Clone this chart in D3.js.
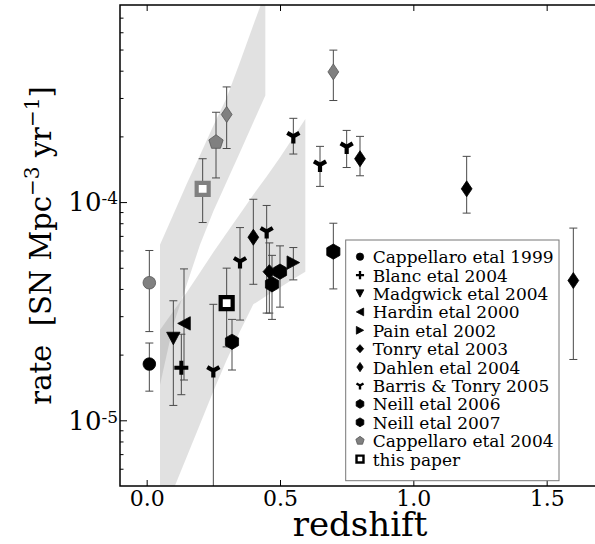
<!DOCTYPE html>
<html lang="en">
<head>
<meta charset="utf-8">
<title>SN rate vs redshift</title>
<script src="https://cdn.jsdelivr.net/npm/d3@7"></script>
<style>
  body { margin: 0; background: #fff; }
  svg { display: block; }
  text { font-family: "DejaVu Serif", serif; fill: #000; }
</style>
</head>
<body>
<script>

let width = 595
let height = 544
let plotLeft = 120, plotTop = 5, plotRight = 600, plotBottom = 486

// tick values
const xTicks = [0.0, 0.5, 1.0, 1.5]
const xTickLabels = ['0.0', '0.5', '1.0', '1.5']
const yMajorTicks = [1e-5, 1e-4]
const yMajorExp = ['-5', '-4']

// points: [redshift, rate, lower, upper]
const cappellaro1999 = [[0.01, 1.81e-5, 1.36e-5, 2.26e-5]]
const blanc2004 = [[0.13, 1.74e-5, 1.31e-5, 2.48e-5]]
const madgwick2004 = [[0.10, 2.37e-5, 1.17e-5, 3.53e-5]]
const hardin2000 = [[0.14, 2.78e-5, 1.53e-5, 4.94e-5]]
const pain2002 = [[0.55, 5.28e-5, 4.4e-5, 6.19e-5]]
const tonry2003 = [[0.46, 4.8e-5, 3.1e-5, 6.5e-5]]
const dahlen2004 = [[0.40, 6.9e-5, 4.2e-5, 1.03e-4], [0.80, 1.58e-4, 1.32e-4, 2.0e-4],
                    [1.20, 1.15e-4, 8.9e-5, 1.62e-4], [1.60, 4.37e-5, 1.9e-5, 7.6e-5]]
const barrisTonry2005 = [[0.25, 1.69e-5, 1e-6, 3.4e-5], [0.35, 5.34e-5, 2.88e-5, 7.64e-5],
                         [0.45, 7.33e-5, 3.1e-5, 9.65e-5], [0.55, 2.0e-4, 1.66e-4, 2.42e-4],
                         [0.65, 1.48e-4, 1.18e-4, 1.80e-4], [0.75, 1.79e-4, 1.44e-4, 2.13e-4]]
const neill2006 = [[0.47, 4.2e-5, 2.9e-5, 5.7e-5]]
const neill2007 = [[0.32, 2.29e-5, 1.7e-5, 2.9e-5], [0.50, 4.8e-5, 3.3e-5, 6.3e-5],
                   [0.70, 5.93e-5, 4.0e-5, 8.0e-5]]
const cappellaro2004 = [[0.26, 1.88e-4, 1.29e-4, 2.58e-4]]
const thisPaper = [[0.30, 3.44e-5, 2.17e-5, 4.98e-5]]

// core collapse points (grey, not in legend)
const ccCappellaro1999 = [[0.01, 4.27e-5, 2.55e-5, 6.0e-5]]
const ccDahlen2004 = [[0.30, 2.52e-4, 1.76e-4, 3.37e-4], [0.70, 3.95e-4, 2.92e-4, 4.97e-4]]
const ccThisPaper = [[0.21, 1.15e-4, 8.06e-5, 1.58e-4]]

// model bands
const ccBandZ = [0.05, 0.10, 0.15, 0.20, 0.25, 0.30, 0.35, 0.40, 0.445]
const ccBandLow = [1.45e-5, 2.74e-5, 4.18e-5, 6.37e-5, 9.08e-5, 1.24e-4, 1.69e-4, 2.32e-4, 3.08e-4]
const ccBandHigh = [6.37e-5, 8.78e-5, 1.21e-4, 1.64e-4, 2.24e-4, 3.01e-4, 4.39e-4, 6.47e-4, 9.14e-4]
const iaBandZ = [0.05, 0.10, 0.15, 0.20, 0.25, 0.30, 0.35, 0.40, 0.45, 0.50, 0.55, 0.595]
const iaBandLow = [3.4e-6, 4.81e-6, 6.79e-6, 9.59e-6, 1.36e-5, 1.89e-5, 2.56e-5, 3.4e-5, 3.72e-5, 4.06e-5, 4.44e-5, 4.79e-5]
const iaBandHigh = [2.59e-5, 3.16e-5, 3.85e-5, 4.76e-5, 5.89e-5, 7.21e-5, 8.81e-5, 1.08e-4, 1.31e-4, 1.60e-4, 1.98e-4, 2.40e-4]

const grey = '#808080'

let series = [
  {label: 'Cappellaro etal 1999', data: cappellaro1999, shape: 'circle', color: '#000'},
  {label: 'Blanc etal 2004', data: blanc2004, shape: 'plus', color: '#000'},
  {label: 'Madgwick etal 2004', data: madgwick2004, shape: 'triDown', color: '#000'},
  {label: 'Hardin etal 2000', data: hardin2000, shape: 'triLeft', color: '#000'},
  {label: 'Pain etal 2002', data: pain2002, shape: 'triRight', color: '#000'},
  {label: 'Tonry etal 2003', data: tonry2003, shape: 'diamond', color: '#000'},
  {label: 'Dahlen etal 2004', data: dahlen2004, shape: 'thinDiamond', color: '#000'},
  {label: 'Barris & Tonry 2005', data: barrisTonry2005, shape: 'wye', color: '#000'},
  {label: 'Neill etal 2006', data: neill2006, shape: 'hexagon', color: '#000'},
  {label: 'Neill etal 2007', data: neill2007, shape: 'hexagon', color: '#000'},
  {label: 'Cappellaro etal 2004', data: cappellaro2004, shape: 'pentagon', color: grey},
  {label: 'this paper', data: thisPaper, shape: 'square', color: '#000'},
  {label: null, data: ccCappellaro1999, shape: 'circle', color: grey},
  {label: null, data: ccDahlen2004, shape: 'thinDiamond', color: grey},
  {label: null, data: ccThisPaper, shape: 'square', color: grey}
]

let xScale = d3.scaleLinear().domain([-0.1, 1.7]).range([plotLeft, plotRight])
let yScale = d3.scaleLog().domain([5e-6, 8e-4]).range([plotBottom, plotTop])

let svg = d3.select('body').append('svg')
            .attr('width', width)
            .attr('height', height)

svg.append('defs').append('clipPath').attr('id', 'plotclip')
   .append('rect')
   .attr('x', plotLeft).attr('y', plotTop)
   .attr('width', plotRight - plotLeft).attr('height', plotBottom - plotTop)

let plot = svg.append('g').attr('clip-path', 'url(#plotclip)')

// bands
let drawBand = (zs, lows, highs) => {
  let rows = zs.map((z, i) => ({z: z, lo: lows[i], hi: highs[i]}))
  let area = d3.area()
               .x(d => xScale(d.z))
               .y0(d => yScale(d.lo))
               .y1(d => yScale(d.hi))
  plot.append('path')
      .attr('d', area(rows))
      .attr('fill', '#808080')
      .attr('fill-opacity', 0.24)
}
drawBand(ccBandZ, ccBandLow, ccBandHigh)
drawBand(iaBandZ, iaBandLow, iaBandHigh)

// marker shapes
let shapePath = (shape, k) => {
  let p = d3.path()
  let poly = (pts) => {
    pts.forEach((q, i) => i ? p.lineTo(q[0] * k, q[1] * k) : p.moveTo(q[0] * k, q[1] * k))
    p.closePath()
  }
  let ngon = (n, r) => d3.range(n).map(i => {
    let a = -Math.PI / 2 + i * 2 * Math.PI / n
    return [r * Math.cos(a), r * Math.sin(a)]
  })
  if (shape === 'circle') p.arc(0, 0, 6.3 * k, 0, 2 * Math.PI)
  else if (shape === 'hexagon') poly(ngon(6, 7.6))
  else if (shape === 'pentagon') poly(ngon(5, 7.5))
  else if (shape === 'triDown') poly([[-6.7, -6.3], [6.7, -6.3], [0, 6.3]])
  else if (shape === 'triLeft') poly([[6.3, -6.7], [6.3, 6.7], [-6.3, 0]])
  else if (shape === 'triRight') poly([[-6.3, -6.7], [-6.3, 6.7], [6.3, 0]])
  else if (shape === 'diamond') poly([[0, -7], [6.3, 0], [0, 7], [-6.3, 0]])
  else if (shape === 'thinDiamond') poly([[0, -8], [5.4, 0], [0, 8], [-5.4, 0]])
  else if (shape === 'plus') {
    p.moveTo(-7 * k, 0); p.lineTo(7 * k, 0)
    p.moveTo(0, -7 * k); p.lineTo(0, 7 * k)
  } else if (shape === 'wye') {
    let r = 7 * k
    p.moveTo(0, 0); p.lineTo(0, r)
    p.moveTo(0, 0); p.lineTo(-0.866 * r, -0.5 * r)
    p.moveTo(0, 0); p.lineTo(0.866 * r, -0.5 * r)
  } else if (shape === 'square') {
    p.rect(-6 * k, -6 * k, 12 * k, 12 * k)
  }
  return p.toString()
}

let drawMarker = (g, s, cx, cy, k) => {
  let m = g.append('path')
           .attr('d', shapePath(s.shape, k))
           .attr('transform', `translate(${cx},${cy})`)
  if (s.shape === 'plus' || s.shape === 'wye') {
    m.attr('fill', 'none').attr('stroke', s.color)
     .attr('stroke-width', (s.shape === 'plus' ? 4 : 4.2) * k)
     .attr('stroke-linecap', 'butt')
  } else if (s.shape === 'square') {
    m.attr('fill', '#fff').attr('stroke', s.color).attr('stroke-width', 4.2 * k)
  } else if (s.color === grey) {
    m.attr('fill', grey).attr('stroke', '#555').attr('stroke-width', 0.8)
  } else {
    m.attr('fill', s.color).attr('stroke', s.color).attr('stroke-width', 0.8)
  }
  return m
}

// error bars
let errG = plot.append('g').attr('stroke', '#4a4a4a').attr('stroke-width', 1)
series.forEach(s => {
  s.data.forEach(d => {
    let x = xScale(d[0])
    errG.append('line').attr('x1', x).attr('x2', x)
        .attr('y1', yScale(d[2])).attr('y2', yScale(d[3]))
    ;[d[2], d[3]].forEach(v => {
      errG.append('line').attr('x1', x - 4).attr('x2', x + 4)
          .attr('y1', yScale(v)).attr('y2', yScale(v))
    })
  })
})

// markers
let markG = plot.append('g')
series.forEach(s => {
  s.data.forEach(d => drawMarker(markG, s, xScale(d[0]), yScale(d[1]), 1))
})

// axes with inward ticks
let yMinor = []
d3.range(-6, -2).forEach(e => d3.range(2, 10).forEach(m => yMinor.push(m * Math.pow(10, e))))
yMinor = yMinor.filter(v => v > 5e-6 && v < 8e-4)

svg.append('g')
   .attr('transform', `translate(0, ${plotBottom})`)
   .call(d3.axisBottom(xScale).tickValues(xTicks).tickSize(-6).tickPadding(4)
           .tickFormat((d, i) => xTickLabels[i]))
   .call(g => g.select('.domain').remove())
   .call(g => g.selectAll('text').attr('font-size', 22).attr('font-family', 'DejaVu Serif').attr('fill', '#000'))

svg.append('g')
   .attr('transform', `translate(0, ${plotTop})`)
   .call(d3.axisTop(xScale).tickValues(xTicks).tickSize(-6).tickFormat(''))
   .call(g => g.select('.domain').remove())

svg.append('g')
   .attr('transform', `translate(${plotLeft}, 0)`)
   .call(d3.axisLeft(yScale).tickValues(yMajorTicks).tickSize(-7).tickFormat(''))
   .call(g => g.select('.domain').remove())

svg.append('g')
   .attr('transform', `translate(${plotLeft}, 0)`)
   .call(d3.axisLeft(yScale).tickValues(yMinor).tickSize(-3.5).tickFormat(''))
   .call(g => g.select('.domain').remove())

svg.selectAll('.tick line').attr('stroke', '#000').attr('stroke-width', 1)

// y tick labels with exponents
yMajorTicks.forEach((v, i) => {
  let t = svg.append('text')
             .attr('x', plotLeft - 2)
             .attr('y', yScale(v) + 9.4)
             .attr('text-anchor', 'end')
             .attr('font-size', 26)
  t.append('tspan').text('10')
  t.append('tspan').attr('font-size', 17).attr('dy', -7).text(yMajorExp[i])
})

// frame
svg.append('rect')
   .attr('x', plotLeft).attr('y', plotTop)
   .attr('width', plotRight - plotLeft).attr('height', plotBottom - plotTop)
   .attr('fill', 'none').attr('stroke', '#000').attr('stroke-width', 1.5)

// axis labels
svg.append('text')
   .attr('x', (plotLeft + plotRight) / 2)
   .attr('y', 536)
   .attr('text-anchor', 'middle')
   .attr('font-size', 34)
   .text('redshift')

let yl = svg.append('text')
            .attr('transform', `translate(51, ${(plotTop + plotBottom) / 2}) rotate(-90)`)
            .attr('text-anchor', 'middle')
            .attr('font-size', 29)
            .style('white-space', 'pre')
yl.append('tspan').text('rate  [SN Mpc')
yl.append('tspan').attr('font-size', 20).attr('dy', -12).text('\u22123')
yl.append('tspan').attr('dy', 12).text(' yr')
yl.append('tspan').attr('font-size', 20).attr('dy', -12).text('\u22121')
yl.append('tspan').attr('dy', 12).text(']')

// legend
let legendX = 345.7, legendY = 240, legendW = 213.3, legendH = 240.7
let legend = svg.append('g')
legend.append('rect')
      .attr('x', legendX).attr('y', legendY)
      .attr('width', legendW).attr('height', legendH)
      .attr('fill', '#fff').attr('stroke', '#777').attr('stroke-width', 1)

series.filter(s => s.label).forEach((s, i) => {
  let cy = 256.7 + i * 18.4
  drawMarker(legend, s, 360, cy, 0.58)
  legend.append('text')
        .attr('x', 372.7)
        .attr('y', cy + 6.5)
        .attr('font-size', 17)
        .text(s.label)
})

</script>
</body>
</html>
